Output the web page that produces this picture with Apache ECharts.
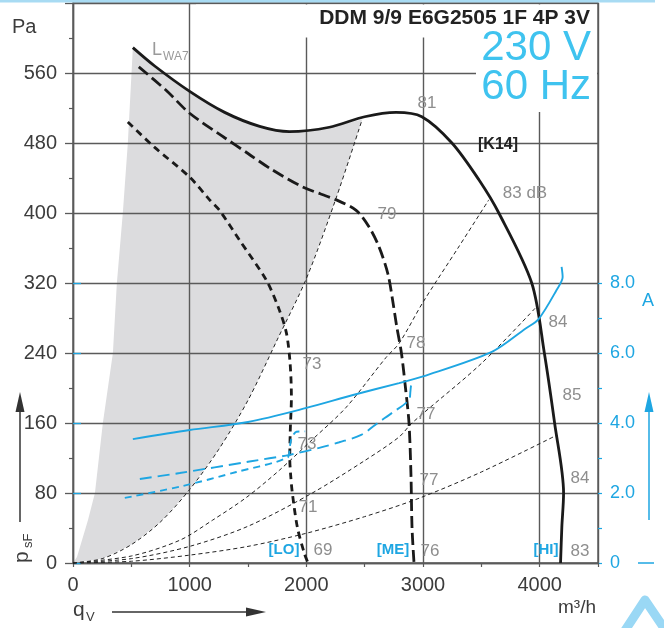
<!DOCTYPE html>
<html>
<head>
<meta charset="utf-8">
<script src="https://cdn.jsdelivr.net/npm/echarts@6.0.0/dist/echarts.min.js"></script>
<style>
  html, body { margin: 0; padding: 0; background: #fff; }
  #chart { width: 664px; height: 628px; }
</style>
</head>
<body>
<div id="chart"></div>
<script>
// fan curves, q_V in m³/h, p_sF in Pa
const hiPressure = [[513, 589], [700, 568], [1000, 539], [1300, 515], [1600, 499], [1855, 493], [2197, 498], [2500, 510], [2769, 515], [2990, 510], [3248, 480], [3479, 438], [3650, 400], [3932, 320], [4040, 240], [4128, 160], [4205, 80], [4190, 41], [4179, 0]];
const mePressure = [[564, 567], [800, 540], [1000, 514], [1300, 486], [1500, 468], [1700, 450], [1966, 430], [2256, 415], [2427, 403], [2538, 384], [2624, 361], [2700, 330], [2740, 300], [2775, 270], [2815, 240], [2850, 200], [2880, 160], [2897, 100], [2906, 40], [2923, 0]];
const loPressure = [[470, 504], [700, 475], [1000, 441], [1171, 415], [1256, 403], [1427, 369], [1658, 323], [1769, 289], [1829, 263], [1860, 230], [1872, 190], [1862, 150], [1858, 120], [1866, 100], [1880, 80], [1923, 41], [1983, 11], [2015, 0]];

// system curves (thin dashed)
const systemCurve1 = [[0, 0], [250, 5], [500, 21], [750, 47], [1000, 84], [1250, 130], [1500, 186], [1750, 255], [2000, 325], [2250, 415], [2479, 507]];
const systemCurve2 = [[0, 0], [500, 8], [915, 26], [1197, 49], [1487, 75], [1769, 106], [2051, 141], [2342, 178], [2684, 235], [2795, 251], [3000, 298], [3300, 360], [3564, 415]];
const systemCurve3 = [[0, 0], [500, 5], [1000, 19], [1500, 42], [2051, 80], [2500, 117], [2795, 144], [2906, 160], [3500, 228], [3974, 293]];
const systemCurve4 = [[0, 0], [500, 2], [1000, 9], [1500, 19], [2000, 34], [2500, 53], [2966, 74], [3500, 104], [4145, 146]];

// left edge of the grey zone
const greyLeftEdge = [[0, 0], [34, 7], [77, 26], [128, 49], [188, 80], [256, 160], [342, 240], [376, 320], [427, 400], [470, 480], [513, 589]];

// current in A
const hiCurrent = [[513, 3.54], [1000, 3.8], [1500, 4.03], [2000, 4.43], [2400, 4.8], [2795, 5.14], [3000, 5.33], [3590, 6.03], [3880, 6.7], [3991, 6.97], [4145, 7.8], [4197, 8.17], [4188, 8.46]];
const meCurrent = [[573, 2.4], [915, 2.57], [1513, 2.9], [1855, 3.09], [2111, 3.29], [2282, 3.45], [2470, 3.66], [2624, 4.03], [2735, 4.29], [2880, 4.66], [2892, 4.9], [2900, 5.1], [2925, 5.2]];
const loCurrent = [[444, 1.86], [940, 2.2], [1400, 2.6], [1840, 3.02], [1858, 3.3], [1872, 3.55], [1915, 3.75], [1990, 3.76]];

const FONT = '"Liberation Sans", Arial, sans-serif';
const AXIS = '#5a5a5a';
const BLUE = '#1ea6e2';
const GREYTXT = '#8e8e8e';

const chart = echarts.init(document.getElementById('chart'), null, { renderer: 'canvas' });

function txt(x, y, text, size, color, extra) {
  const style = Object.assign({
    text: text, fontSize: size, fontFamily: FONT, fill: color,
    align: 'center', verticalAlign: 'middle', textAlign: 'center', textVerticalAlign: 'middle'
  }, extra || {});
  if (style.align !== 'center') style.textAlign = style.align;
  return { type: 'text', x: x, y: y, z: 10, silent: true, style: style };
}

function arrow(x1, y1, x2, y2, color) {
  const ang = Math.atan2(y2 - y1, x2 - x1);
  const hl = 20, hw = 4.5;
  const bx = x2 - hl * Math.cos(ang), by = y2 - hl * Math.sin(ang);
  const nx = -Math.sin(ang) * hw, ny = Math.cos(ang) * hw;
  return [
    { type: 'line', z: 10, silent: true, shape: { x1: x1, y1: y1, x2: bx, y2: by }, style: { stroke: color, lineWidth: 1.5 } },
    { type: 'polygon', z: 10, silent: true, shape: { points: [[x2, y2], [bx + nx, by + ny], [bx - nx, by - ny]] }, style: { fill: color } }
  ];
}

function curve(data, color, width, dash, xi) {
  return {
    type: 'line', data: data, xAxisIndex: xi || 0, yAxisIndex: xi || 0,
    showSymbol: false, symbol: 'none', smooth: 0.3, clip: false, z: 3, silent: true,
    lineStyle: { color: color, width: width, type: dash || 'solid' }
  };
}

const option = {
  animation: false,
  backgroundColor: '#fff',
  grid: [
    { left: 73, right: 66, top: 3, bottom: 65, show: true, borderColor: AXIS, borderWidth: 1.4 },
    { left: 73, right: 66, top: 283, bottom: 65, show: false }
  ],
  xAxis: [
    {
      gridIndex: 0, type: 'value', min: 0, max: 4500, interval: 1000, z: 1,
      axisLine: { show: true, lineStyle: { color: AXIS, width: 1.4 } },
      axisTick: { show: true, length: 4, lineStyle: { color: AXIS, width: 1.2 } },
      minorTick: { show: true, splitNumber: 2, length: 4, lineStyle: { color: AXIS, width: 1.2 } },
      splitLine: { show: true, lineStyle: { color: AXIS, width: 1.4 } },
      axisLabel: { showMaxLabel: false, color: '#3c3c3c', fontSize: 20, fontFamily: FONT, margin: 12, formatter: v => String(v) }
    },
    { gridIndex: 1, type: 'value', min: 0, max: 4500, show: false }
  ],
  yAxis: [
    {
      gridIndex: 0, type: 'value', min: 0, max: 640, interval: 80, z: 1,
      axisLine: { show: true, lineStyle: { color: AXIS, width: 1.4 } },
      axisTick: { show: true, length: 8, lineStyle: { color: AXIS, width: 1.3 } },
      minorTick: { show: true, splitNumber: 2, length: 4, lineStyle: { color: AXIS, width: 1.2 } },
      splitLine: { show: true, lineStyle: { color: AXIS, width: 1.4 } },
      axisLabel: { showMaxLabel: false, color: '#3c3c3c', fontSize: 20, fontFamily: FONT, margin: 16 }
    },
    {
      // current axis: long ticks + labels every 2 A
      gridIndex: 1, type: 'value', position: 'right', min: 0, max: 8, interval: 2, z: 1,
      axisLine: { show: false },
      axisTick: { show: true, length: 8, lineStyle: { color: BLUE, width: 1.3 } },
      minorTick: { show: false },
      splitLine: { show: false },
      axisLabel: {
        color: BLUE, fontSize: 18, fontFamily: FONT, margin: 12,
        formatter: v => (v === 0 ? '0' : v.toFixed(1))
      }
    },
    {
      // short ticks every 1 A
      gridIndex: 1, type: 'value', position: 'right', min: 0, max: 8, interval: 1, z: 1,
      axisLine: { show: false },
      axisTick: { show: true, length: 4, lineStyle: { color: BLUE, width: 1.2 } },
      axisLabel: { show: false },
      splitLine: { show: false }
    }
  ],
  series: [
    {
      type: 'custom', coordinateSystem: 'cartesian2d', xAxisIndex: 0, yAxisIndex: 0,
      z: 0, silent: true, data: [[0, 0]],
      renderItem: (params, api) => {
        const end = systemCurve1[systemCurve1.length - 1][0];
        const top = hiPressure.filter(p => p[0] > 513 && p[0] < end);
        const pts = greyLeftEdge.concat(top, systemCurve1.slice().reverse());
        return { type: 'polygon', shape: { points: pts.map(p => api.coord(p)) }, style: { fill: '#dcdcde' } };
      }
    },
    curve(systemCurve1, '#222', 1, [4, 3]),
    curve(systemCurve2, '#222', 1, [4, 3]),
    curve(systemCurve3, '#222', 1, [4, 3]),
    curve(systemCurve4, '#222', 1, [4, 3]),
    curve(hiPressure, '#1a1a1a', 2.8),
    curve(mePressure, '#1a1a1a', 2.8, [12, 5]),
    curve(loPressure, '#1a1a1a', 2.8, [7, 5]),
    curve(hiCurrent, BLUE, 1.9, 'solid', 1),
    curve(meCurrent, BLUE, 1.9, [12, 6], 1),
    curve(loCurrent, BLUE, 1.9, [7, 5], 1)
  ],
  graphic: [
    // light strip on top
    { type: 'rect', z: 2, silent: true, shape: { x: 0, y: 0, width: 655, height: 2.5 }, style: { fill: '#a8dbf3' } },
    // white box behind the title texts
    { type: 'rect', z: 2, silent: true, shape: { x: 196, y: 4.5, width: 401, height: 33 }, style: { fill: '#fff' } },
    { type: 'rect', z: 2, silent: true, shape: { x: 476, y: 30, width: 121, height: 82 }, style: { fill: '#fff' } },

    txt(590, 18, 'DDM 9/9 E6G2505 1F 4P 3V', 21, '#222', { align: 'right', fontWeight: 'bold' }),
    txt(591, 48, '230 V', 42, '#3fc3ef', { align: 'right' }),
    txt(591, 87, '60 Hz', 42, '#3fc3ef', { align: 'right' }),
    txt(498, 145, '[K14]', 16, '#222', { fontWeight: 'bold' }),

    txt(12, 27, 'Pa', 20, '#3c3c3c', { align: 'left' }),
    txt(152, 50, 'L', 18, '#9a9a9a', { align: 'left' }),
    txt(163, 57, 'WA7', 12, '#9a9a9a', { align: 'left' }),

    txt(427, 103, '81', 17, GREYTXT),
    txt(525, 193, '83 dB', 17, GREYTXT),
    txt(558, 322, '84', 17, GREYTXT),
    txt(572, 395, '85', 17, GREYTXT),
    txt(580, 478, '84', 17, GREYTXT),
    txt(580, 551, '83', 17, GREYTXT),
    txt(387, 214, '79', 17, GREYTXT),
    txt(416, 343, '78', 17, GREYTXT),
    txt(426, 414, '77', 17, GREYTXT),
    txt(429, 480, '77', 17, GREYTXT),
    txt(430, 551, '76', 17, GREYTXT),
    txt(312, 364, '73', 17, GREYTXT),
    txt(307, 444, '73', 17, GREYTXT),
    txt(308, 507, '71', 17, GREYTXT),
    txt(323, 550, '69', 17, GREYTXT),

    txt(284, 550, '[LO]', 15, BLUE, { fontWeight: 'bold' }),
    txt(393, 550, '[ME]', 15, BLUE, { fontWeight: 'bold' }),
    txt(546, 550, '[HI]', 15, BLUE, { fontWeight: 'bold' }),

    txt(577, 608, 'm³/h', 19, '#3c3c3c'),
    txt(648, 301, 'A', 18, BLUE),

    txt(73, 610, 'q', 21, '#3c3c3c', { align: 'left' }),
    txt(86, 617, 'V', 13, '#3c3c3c', { align: 'left' }),
    Object.assign(txt(22, 563, 'p', 21, '#3c3c3c', { align: 'left' }), { rotation: Math.PI / 2 }),
    Object.assign(txt(28, 548, 'sF', 13, '#3c3c3c', { align: 'left' }), { rotation: Math.PI / 2 }),

    ...arrow(112, 612, 266, 612, '#333'),
    ...arrow(20, 522, 20, 392, '#333'),
    ...arrow(649, 520, 649, 392, BLUE),
    { type: 'line', z: 10, silent: true, shape: { x1: 638, y1: 563, x2: 654, y2: 563 }, style: { stroke: BLUE, lineWidth: 1.5 } },

    // faint mark bottom right
    { type: 'polyline', z: 1, silent: true, shape: { points: [[624, 632], [645, 600], [668, 634]] }, style: { stroke: '#9ad8f5', lineWidth: 9, fill: null, lineJoin: 'round' } }
  ]
};

chart.setOption(option);
</script>
</body>
</html>
